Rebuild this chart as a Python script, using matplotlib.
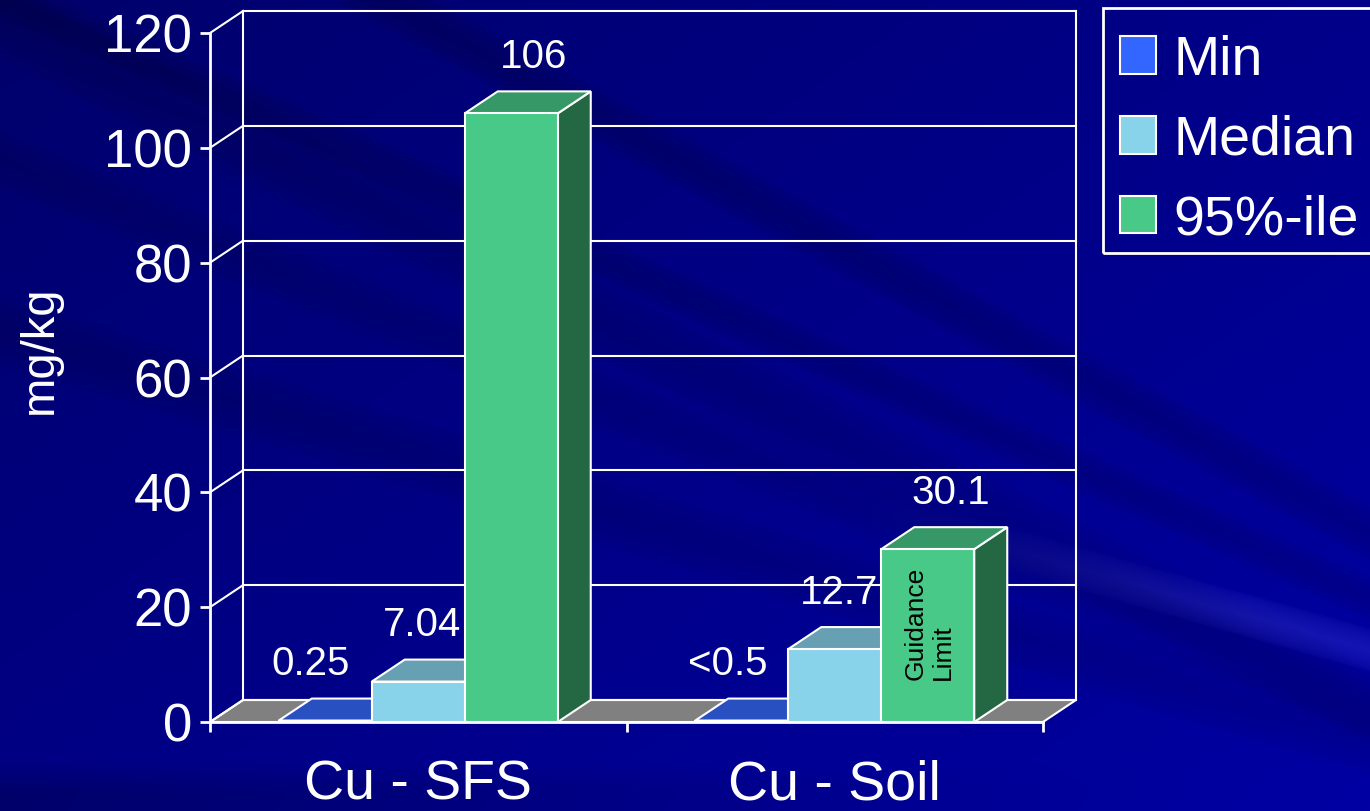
import numpy as np
import matplotlib.pyplot as plt
from matplotlib.patches import Polygon, Patch, Rectangle

plt.rcParams['font.family'] = ['Liberation Sans', 'DejaVu Sans']

# data
categories = ['Cu - SFS', 'Cu - Soil']
series = ['Min', 'Median', '95%-ile']
min_vals = [0.25, 0.25]
median_vals = [7.04, 12.7]
p95_vals = [106, 30.1]
value_labels = [['0.25', '<0.5'], ['7.04', '12.7'], ['106', '30.1']]
y_ticks = [0, 20, 40, 60, 80, 100, 120]

values = [min_vals, median_vals, p95_vals]
front_cols = ['#3366ff', '#88d2ea', '#48c987']
top_cols = ['#2850c0', '#66a0b2', '#359866']
side_cols = ['#1f3f99', '#4f7e8c', '#236843']

W, H = 1370, 811
fig = plt.figure(figsize=(W / 100, H / 100), dpi=100)

# background: navy gradient with diagonal streaks
bg = fig.add_axes([0, 0, 1, 1])
yy, xx = np.mgrid[0:H, 0:W].astype(float)
blue = 0.42 + 0.12 * (xx / W) + 0.10 * (yy / H)
red = np.zeros_like(blue)
green = np.zeros_like(blue)

def band(intercept, slope, width):
    d = np.abs(yy - (intercept + slope * xx))
    return np.clip(1 - d / width, 0, 1) ** 0.5

blue -= 0.08 * band(-207, 0.54, 28)
blue -= 0.07 * band(-5, 0.44, 22)
blue -= 0.06 * band(20, 0.50, 40)
blue -= 0.05 * band(160, 0.40, 30)
blue -= 0.06 * band(330, 0.30, 35)
light = band(266, 0.28, 22) * np.clip((xx - 850) / 400, 0, 1)
blue += 0.08 * light
red += 0.08 * light
green += 0.08 * light
blue -= 0.10 * np.clip((yy - 760) / 30, 0, 1) * np.clip(1 - xx / 1200, 0, 1)
img = np.dstack([red, green, np.clip(blue, 0, 1)])
bg.imshow(np.clip(img, 0, 1), aspect='auto', extent=[0, W, H, 0])
bg.axis('off')

# main chart, front plane spans x 0..2, y 0..120
ax = fig.add_axes([210 / W, (H - 722) / H, 833 / W, 689 / H])
ax.set_xlim(0, 2)
ax.set_ylim(0, 120)
ax.patch.set_visible(False)
for s in ['top', 'right']:
    ax.spines[s].set_visible(False)
for s in ['left', 'bottom']:
    ax.spines[s].set_color('white')
    ax.spines[s].set_linewidth(2)

DX = 33 / 833 * 2
DY = 22 / 689 * 120
lw = 1.5

# floor
ax.add_patch(Polygon([(0, 0), (2, 0), (2 + DX, DY), (DX, DY)], closed=True,
                     facecolor='#808080', edgecolor='white', lw=lw, zorder=1, clip_on=False))
# back wall and side wall lines
for v in y_ticks:
    ax.plot([DX, 2 + DX], [v + DY, v + DY], color='white', lw=lw, zorder=1, clip_on=False)
    ax.plot([0, DX], [v, v + DY], color='white', lw=lw, zorder=1, clip_on=False)
for xv in [DX, 2 + DX]:
    ax.plot([xv, xv], [DY, 120 + DY], color='white', lw=lw, zorder=1, clip_on=False)

# 3D bars
bw = 93 / 833 * 2
gap = (1 - 3 * bw) / 2
x = np.arange(len(categories))
for j, vals in enumerate(values):
    lefts = x + gap + j * bw
    for xl, v in zip(lefts, vals):
        xr = xl + bw
        ax.add_patch(Polygon([(xr, 0), (xr + DX, DY), (xr + DX, v + DY), (xr, v)], closed=True,
                             facecolor=side_cols[j], edgecolor='white', lw=lw,
                             zorder=2 + 2 * j, clip_on=False))
        ax.add_patch(Polygon([(xl, v), (xr, v), (xr + DX, v + DY), (xl + DX, v + DY)], closed=True,
                             facecolor=top_cols[j], edgecolor='white', lw=lw,
                             zorder=2 + 2 * j, clip_on=False))
    ax.bar(lefts, vals, width=bw, align='edge', color=front_cols[j], edgecolor='white',
           lw=lw, zorder=3 + 2 * j, clip_on=False)
    for i, (xl, v) in enumerate(zip(lefts, vals)):
        center = x[i] + 0.5
        off = xl + bw / 2 - center
        ax.text(center + 1.2 * off + 0.01, v + DY + 6, value_labels[j][i], color='white',
                fontsize=29, ha='center', va='center', zorder=2.5 + 2 * j)

# note inside the soil 95th percentile bar
soil_left = x[1] + gap + 2 * bw
ax.text(soil_left + bw / 2 + 0.004, 7.3, 'Guidance\nLimit', rotation=90, color='black', fontsize=19,
        ha='center', va='bottom', multialignment='left', linespacing=1.2, zorder=10)

# axes ticks and labels
ax.set_yticks(y_ticks)
ax.tick_params(axis='y', colors='white', labelsize=38, length=7, width=2, pad=6)
ax.set_xticks([0, 1, 2])
ax.set_xticklabels([])
ax.tick_params(axis='x', which='major', colors='white', length=7, width=2)
ax.set_xticks([0.5, 1.5], minor=True)
ax.set_xticklabels(categories, minor=True)
ax.tick_params(axis='x', which='minor', colors='white', labelsize=40, length=0, pad=27)

fig.text(40 / W, 1 - 350 / H, 'mg/kg', rotation=90, color='white', fontsize=34,
         ha='center', va='center')

# legend with its own box running off the right edge
fig.add_artist(Rectangle((1103 / W, 1 - 253 / H), 280 / W, 245 / H, transform=fig.transFigure,
                         facecolor='none', edgecolor='white', lw=2, clip_on=False))
handles = [Patch(facecolor=c, edgecolor='white', lw=1.5) for c in front_cols]
leg = fig.legend(handles, series, loc='upper left', bbox_to_anchor=(1103 / W, 1 - 18 / H),
                 fontsize=40, frameon=False, handlelength=0.66, handleheight=0.66,
                 handletextpad=0.3, labelspacing=0.5, borderpad=0.3, borderaxespad=0)
for t in leg.get_texts():
    t.set_color('white')

fig.savefig('out.png', dpi=100)
